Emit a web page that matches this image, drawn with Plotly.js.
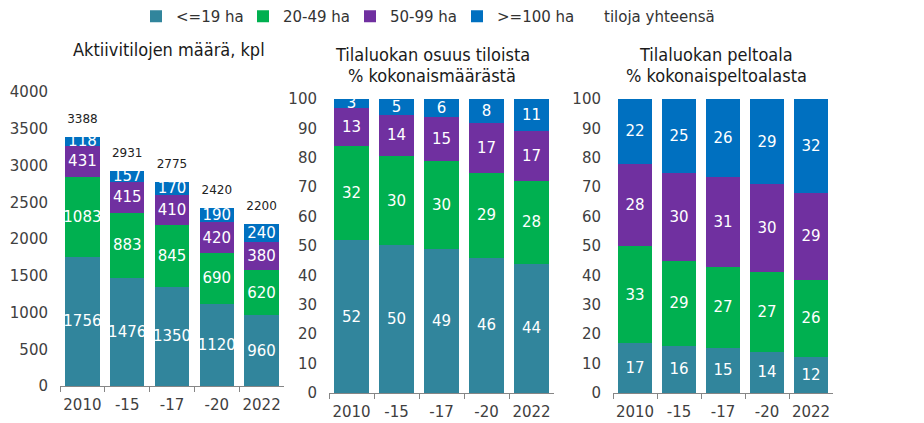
<!DOCTYPE html>
<html>
<head>
<meta charset="utf-8">
<script src="https://cdn.plot.ly/plotly-3.0.1.min.js"></script>
<style>html,body{margin:0;padding:0;background:#fff;}#chart{width:924px;height:423px;}</style>
</head>
<body>
<div id="chart"></div>
<script>
// ---- data ----
var years = ['2010', '-15', '-17', '-20', '2022'];
var seriesNames = ['<=19 ha', '20-49 ha', '50-99 ha', '>=100 ha'];
var totalName = 'tiloja yhteensä';

// number of active farms
var countLe19 = [1756, 1476, 1350, 1120, 960];
var count20to49 = [1083, 883, 845, 690, 620];
var count50to99 = [431, 415, 410, 420, 380];
var countGe100 = [118, 157, 170, 190, 240];
var countTotal = [3388, 2931, 2775, 2420, 2200];

// share of farms, % of total number
var shareLe19 = [52, 50.4, 49, 46, 44];
var share20to49 = [32, 30.1, 30, 29, 28];
var share50to99 = [13, 14.2, 15, 17, 17];
var shareGe100 = [3, 5.3, 6, 8, 11];

// share of field area, % of total field area
var areaLe19 = [17, 16, 15.4, 14, 12.3];
var area20to49 = [33, 29, 27.4, 27, 26.3];
var area50to99 = [28, 30, 30.8, 30, 29.4];
var areaGe100 = [22, 25, 26.4, 29, 32];

// ---- styling ----
var colors = ['#31859C', '#00B050', '#7030A0', '#0070C0'];
var FONT = 'DejaVu Sans, Verdana, sans-serif';
var TITLEFONT = 'DejaVu Sans Condensed, DejaVu Sans, sans-serif';
var AXISGRAY = '#868686';
var TICKCOLOR = '#404040';

function barTrace(vals, i, xa, ya, showLegend, fmt) {
  return {
    type: 'bar',
    x: years,
    y: vals,
    name: seriesNames[i],
    legendgroup: seriesNames[i],
    showlegend: showLegend,
    xaxis: xa,
    yaxis: ya,
    marker: {color: colors[i], line: {width: 0}},
    texttemplate: fmt,
    textposition: 'inside',
    insidetextanchor: 'middle',
    textangle: 0,
    constraintext: 'none',
    cliponaxis: false,
    textfont: {family: FONT, size: 15, color: '#ffffff'},
    hoverinfo: 'x+y+name'
  };
}

var groups = [
  {vals: [countLe19, count20to49, count50to99, countGe100], xa: 'x', ya: 'y', fmt: '%{y}'},
  {vals: [shareLe19, share20to49, share50to99, shareGe100], xa: 'x2', ya: 'y2', fmt: '%{y:.0f}'},
  {vals: [areaLe19, area20to49, area50to99, areaGe100], xa: 'x3', ya: 'y3', fmt: '%{y:.0f}'}
];

var data = [];
groups[0].vals.forEach(function (v, i) { data.push(barTrace(v, i, 'x', 'y', true, groups[0].fmt)); });
// legend entry for totals (no visible symbol)
data.push({
  type: 'scatter', mode: 'lines', x: [years[0]], y: [null], name: totalName,
  line: {color: 'rgba(0,0,0,0)', width: 0}, xaxis: 'x', yaxis: 'y', showlegend: true,
  legendwidth: 130, hoverinfo: 'skip'
});
// totals above bars
data.push({
  type: 'scatter', mode: 'markers+text', x: years, y: countTotal, text: countTotal.map(String),
  textposition: 'top center', name: totalName, showlegend: false, cliponaxis: false,
  marker: {size: 16, color: 'rgba(0,0,0,0)'},
  textfont: {family: FONT, size: 12, color: '#222222'}, xaxis: 'x', yaxis: 'y'
});
for (var g = 1; g < groups.length; g++) {
  groups[g].vals.forEach(function (v, i) {
    data.push(barTrace(v, i, groups[g].xa, groups[g].ya, false, groups[g].fmt));
  });
}

function xAxis(domain, anchor) {
  return {
    domain: domain, anchor: anchor, type: 'category',
    showline: true, linecolor: AXISGRAY, linewidth: 1,
    ticks: 'outside', tickson: 'boundaries', ticklen: 5, tickcolor: AXISGRAY, tickwidth: 1,
    tickangle: 0,
    tickfont: {family: FONT, size: 15, color: TICKCOLOR},
    ticklabelstandoff: 5,
    showgrid: false, zeroline: false, fixedrange: true
  };
}
function yAxis(domain, anchor, range, dtick) {
  return {
    domain: domain, anchor: anchor, range: range, dtick: dtick, tick0: 0,
    showline: false, showgrid: false, zeroline: false, ticks: '',
    tickfont: {family: FONT, size: 15, color: TICKCOLOR},
    ticklabelstandoff: 11, fixedrange: true
  };
}

var W = 924, H = 423;
function px(x) { return x / W; }
function py(y) { return 1 - y / H; }

var titleFont = {family: TITLEFONT, size: 18, color: '#1a1a1a'};
var layout = {
  width: W, height: H,
  margin: {l: 0, r: 0, t: 0, b: 0, pad: 0},
  paper_bgcolor: '#ffffff', plot_bgcolor: '#ffffff',
  font: {family: FONT, size: 15, color: TICKCOLOR},
  barmode: 'stack', bargap: 0.23,
  showlegend: true,
  legend: {
    orientation: 'h', x: px(136), xanchor: 'left', y: 1, yanchor: 'top',
    traceorder: 'normal', entrywidth: 62,
    font: {family: FONT, size: 15, color: '#333333'},
    bgcolor: 'rgba(0,0,0,0)'
  },
  xaxis: xAxis([px(60), px(284)], 'y'),
  yaxis: yAxis([py(386), py(92)], 'x', [0, 4000], 500),
  xaxis2: xAxis([px(329), px(554)], 'y2'),
  yaxis2: yAxis([py(393), py(99)], 'x2', [0, 100], 10),
  xaxis3: xAxis([px(613), px(833)], 'y3'),
  yaxis3: yAxis([py(393), py(99)], 'x3', [0, 100], 10),
  annotations: [
    {text: 'Aktiivitilojen määrä, kpl', x: px(169), y: py(50)},
    {text: 'Tilaluokan osuus tiloista', x: px(432), y: py(55)},
    {text: '% kokonaismäärästä', x: px(432), y: py(75)},
    {text: 'Tilaluokan peltoala', x: px(716), y: py(55)},
    {text: '% kokonaispeltoalasta', x: px(716), y: py(75)}
  ].map(function (a) {
    return Object.assign({xref: 'paper', yref: 'paper', xanchor: 'center', yanchor: 'middle',
      showarrow: false, font: titleFont}, a);
  })
};

Plotly.newPlot('chart', data, layout, {displayModeBar: false, staticPlot: true});
</script>
</body>
</html>
